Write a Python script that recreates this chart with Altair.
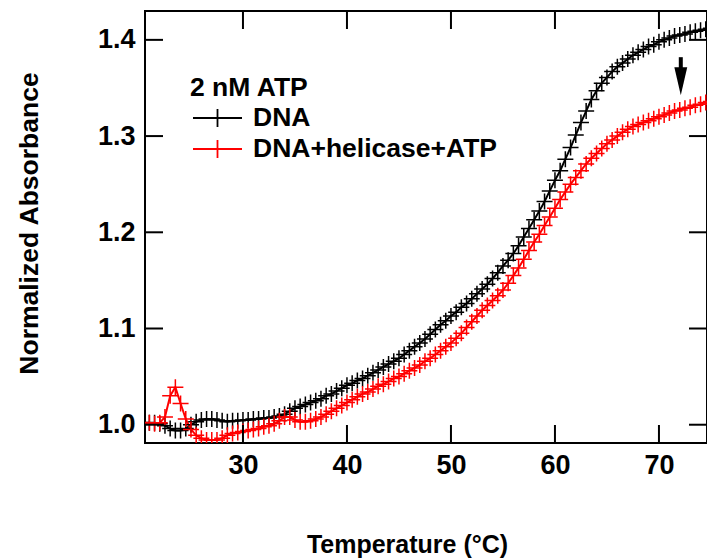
import altair as alt
import pandas as pd

temps = [
    20.5, 21.0, 21.5, 22.0, 22.5, 23.0, 23.5, 24.0, 24.5, 25.0,
    25.5, 26.0, 26.5, 27.0, 27.5, 28.0, 28.5, 29.0, 29.5, 30.0,
    30.5, 31.0, 31.5, 32.0, 32.5, 33.0, 33.5, 34.0, 34.5, 35.0,
    35.5, 36.0, 36.5, 37.0, 37.5, 38.0, 38.5, 39.0, 39.5, 40.0,
    40.5, 41.0, 41.5, 42.0, 42.5, 43.0, 43.5, 44.0, 44.5, 45.0,
    45.5, 46.0, 46.5, 47.0, 47.5, 48.0, 48.5, 49.0, 49.5, 50.0,
    50.5, 51.0, 51.5, 52.0, 52.5, 53.0, 53.5, 54.0, 54.5, 55.0,
    55.5, 56.0, 56.5, 57.0, 57.5, 58.0, 58.5, 59.0, 59.5, 60.0,
    60.5, 61.0, 61.5, 62.0, 62.5, 63.0, 63.5, 64.0, 64.5, 65.0,
    65.5, 66.0, 66.5, 67.0, 67.5, 68.0, 68.5, 69.0, 69.5, 70.0,
    70.5, 71.0, 71.5, 72.0, 72.5, 73.0, 73.5, 74.0, 74.5, 75.0,
]

dna = [
    1.002, 1.002, 1.002, 1.001, 0.999, 0.996, 0.994, 0.994, 0.996, 1.000,
    1.003, 1.005, 1.006, 1.006, 1.005, 1.004, 1.003, 1.004, 1.004, 1.005,
    1.005, 1.006, 1.006, 1.007, 1.007, 1.008, 1.009, 1.011, 1.014, 1.017,
    1.019, 1.021, 1.023, 1.025, 1.027, 1.030, 1.032, 1.035, 1.038, 1.041,
    1.043, 1.046, 1.048, 1.051, 1.054, 1.057, 1.060, 1.063, 1.066, 1.069,
    1.073, 1.077, 1.081, 1.085, 1.089, 1.094, 1.099, 1.104, 1.108, 1.113,
    1.117, 1.122, 1.126, 1.131, 1.136, 1.141, 1.146, 1.152, 1.158, 1.165,
    1.171, 1.178, 1.186, 1.195, 1.204, 1.213, 1.222, 1.232, 1.243, 1.254,
    1.264, 1.276, 1.288, 1.301, 1.314, 1.326, 1.338, 1.347, 1.355, 1.361,
    1.367, 1.372, 1.376, 1.380, 1.384, 1.387, 1.390, 1.393, 1.395, 1.398,
    1.400, 1.402, 1.404, 1.405, 1.406, 1.408, 1.409, 1.410, 1.411, 1.412,
]

helicase = [
    1.002, 1.002, 1.001, 1.002, 1.008, 1.030, 1.039, 1.022, 1.006, 0.995,
    0.989, 0.986, 0.984, 0.984, 0.984, 0.986, 0.989, 0.991, 0.992, 0.993,
    0.994, 0.995, 0.996, 0.998, 0.999, 1.001, 1.004, 1.008, 1.008, 1.005,
    1.003, 1.003, 1.004, 1.006, 1.008, 1.011, 1.014, 1.017, 1.020, 1.023,
    1.026, 1.029, 1.032, 1.034, 1.037, 1.040, 1.042, 1.045, 1.048, 1.050,
    1.053, 1.056, 1.059, 1.062, 1.066, 1.069, 1.073, 1.077, 1.081, 1.085,
    1.090, 1.095, 1.101, 1.107, 1.113, 1.119, 1.124, 1.129, 1.134, 1.140,
    1.147, 1.155, 1.163, 1.172, 1.181, 1.190, 1.198, 1.207, 1.216, 1.225,
    1.234, 1.242, 1.250, 1.257, 1.264, 1.271, 1.277, 1.282, 1.287, 1.292,
    1.296, 1.300, 1.304, 1.307, 1.310, 1.312, 1.314, 1.316, 1.318, 1.320,
    1.322, 1.324, 1.326, 1.327, 1.329, 1.330, 1.332, 1.333, 1.335, 1.336,
]

series_names = ["DNA", "DNA+helicase+ATP"]
series_colors = ["#000000", "#ff0000"]
legend_title = "2 nM ATP"
x_ticks = [30, 40, 50, 60, 70]
y_ticks = [1.0, 1.1, 1.2, 1.3, 1.4]
arrow_T = [72.1]
arrow_top = [1.382]
arrow_shaft_end = [1.367]
arrow_head = [1.357]

FONT = "Liberation Sans"
FS = 27
W, H = 562, 432

df = pd.DataFrame({
    "T": temps * 2,
    "A": dna + helicase,
    "series": [series_names[0]] * len(temps) + [series_names[1]] * len(temps),
})

XT = "Temperature (°C)"
YT = "Normalized Absorbance"
xscale = alt.Scale(domain=[20.58, 74.62], nice=False, zero=False)
yscale = alt.Scale(domain=[0.981, 1.430], nice=False, zero=False)
cscale = alt.Scale(domain=series_names, range=series_colors)

xaxis = alt.Axis(values=x_ticks, format="d", ticks=False, domain=False, grid=False,
                 labelFont=FONT, labelFontWeight="bold", labelFontSize=FS, labelColor="black",
                 labelPadding=9,
                 titleFont=FONT, titleFontWeight="bold",
                 titleFontSize=25, titleColor="black", titleX=262, titleY=101,
                 titleBaseline="middle", titleAlign="center")
yaxis = alt.Axis(values=y_ticks, format=".1f", ticks=False, domain=False, grid=False,
                 labelFont=FONT, labelFontWeight="bold", labelFontSize=FS, labelColor="black",
                 labelPadding=10,
                 titleFont=FONT, titleFontWeight="bold",
                 titleFontSize=26.5, titleColor="black", titleX=-116, titleY=212,
                 titleBaseline="middle", titleAlign="center", titleAngle=-90)


def X(**kw):
    return alt.X("T:Q", scale=xscale, title=XT, **kw)


def Y(field="A", **kw):
    return alt.Y(f"{field}:Q", scale=yscale, title=YT, **kw)


plus = "M-1,0H1M0,-1V1"

lines = alt.Chart(df).mark_line(strokeWidth=2, clip=True).encode(
    x=X(axis=xaxis),
    y=Y(axis=yaxis),
    color=alt.Color("series:N", scale=cscale, legend=None),
    detail="series:N",
)
points = alt.Chart(df).mark_point(shape=plus, size=256, strokeWidth=1.5, filled=False,
                                  opacity=1, clip=True).encode(
    x=X(), y=Y(),
    color=alt.Color("series:N", scale=cscale, legend=None),
)

xt = pd.DataFrame({"T": x_ticks})
yt = pd.DataFrame({"A": y_ticks})
tick_style = dict(color="black", strokeWidth=2)
top_ticks = alt.Chart(xt).mark_rule(**tick_style).encode(
    x=X(), y=alt.value(0), y2=alt.value(18))
bot_ticks = alt.Chart(xt).mark_rule(**tick_style).encode(
    x=X(), y=alt.value(H), y2=alt.value(H - 18))
left_ticks = alt.Chart(yt).mark_rule(**tick_style).encode(
    y=Y(), x=alt.value(0), x2=alt.value(18))
right_ticks = alt.Chart(yt).mark_rule(**tick_style).encode(
    y=Y(), x=alt.value(W), x2=alt.value(W - 18))

shaft_df = pd.DataFrame({"T": arrow_T, "A": arrow_top, "A2": arrow_shaft_end})
head_df = pd.DataFrame({"T": arrow_T, "A": arrow_head})
arrow_shaft = alt.Chart(shaft_df).mark_rule(color="black", strokeWidth=4).encode(
    x=X(), y=Y(), y2="A2:Q",
)
arrow_tip = alt.Chart(head_df).mark_point(shape="M-0.46,-1L0.46,-1L0,1Z", size=784,
                                          filled=True, color="black", opacity=1,
                                          strokeWidth=0).encode(
    x=X(), y=Y(),
)

one = pd.DataFrame({"a": [0]})
txt = dict(font=FONT, fontWeight="bold", fontSize=26.5, color="black", align="left",
           baseline="middle")
leg_title = alt.Chart(one).mark_text(text=legend_title, **txt).encode(
    x=alt.value(45), y=alt.value(77))
leg_items = []
for i, (name, col) in enumerate(zip(series_names, series_colors)):
    yy = 107 + 31 * i
    leg_items.append(alt.Chart(one).mark_rule(color=col, strokeWidth=2).encode(
        x=alt.value(48), x2=alt.value(97), y=alt.value(yy)))
    leg_items.append(alt.Chart(one).mark_point(shape="M0,-1V1", size=324, strokeWidth=1.8,
                                               color=col, opacity=1).encode(
        x=alt.value(72.5), y=alt.value(yy)))
    leg_items.append(alt.Chart(one).mark_text(text=name, **txt).encode(
        x=alt.value(108), y=alt.value(yy)))

chart = alt.layer(
    lines, points, top_ticks, bot_ticks, left_ticks, right_ticks,
    arrow_shaft, arrow_tip, leg_title, *leg_items,
).properties(
    width=W, height=H,
    background="white",
    autosize=alt.AutoSizeParams(type="none"),
    padding={"left": 137, "top": 3, "right": 0, "bottom": 115},
).configure_view(
    stroke="black", strokeWidth=2,
)

chart.save("out.html", embed_options={"renderer": "svg", "actions": False})
